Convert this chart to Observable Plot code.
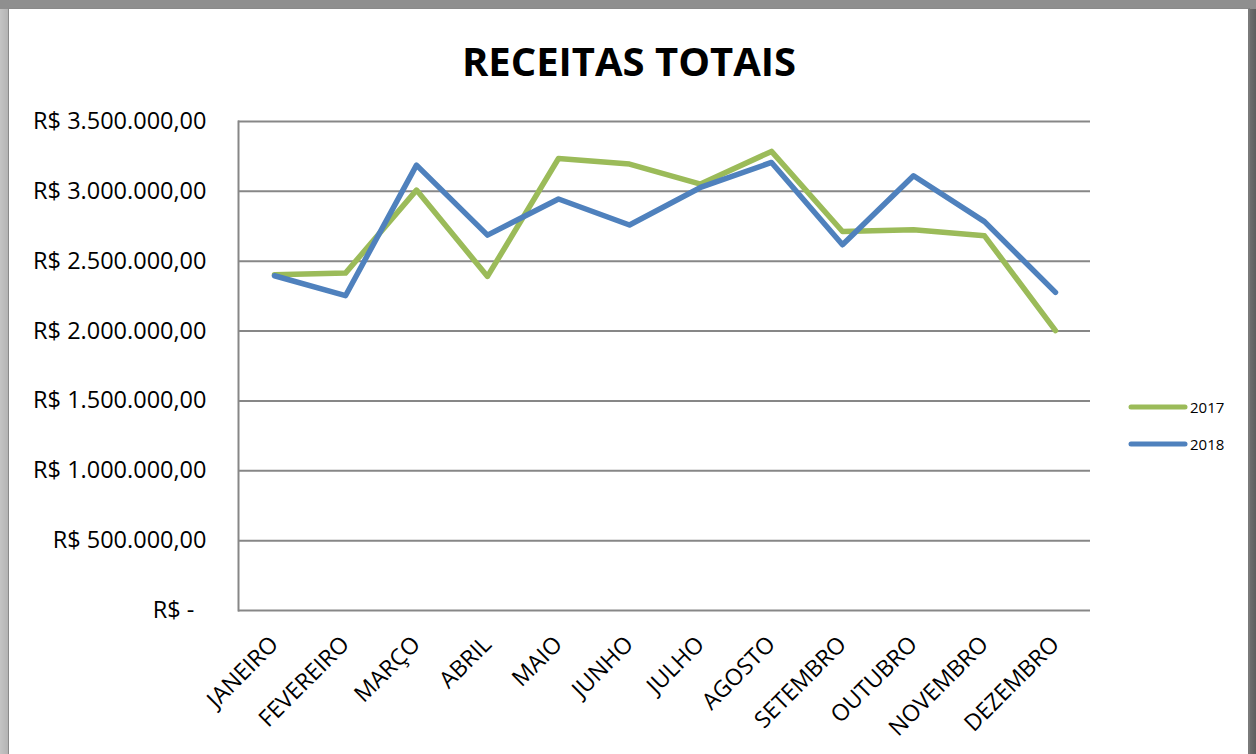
<!DOCTYPE html>
<html>
<head>
<meta charset="utf-8">
<script src="https://cdn.jsdelivr.net/npm/d3@7"></script>
<script src="https://cdn.jsdelivr.net/npm/@observablehq/plot@0.6"></script>
<style>
  html, body { margin: 0; padding: 0; }
  body { width: 1256px; height: 754px; position: relative; overflow: hidden;
         background: linear-gradient(to right, #c4c4c4 0px, #b4b4b4 8px, #8e8e8e 9px, #8e8e8e 1249px, #6e6e6e 1250px, #5e5e5e 1256px);
         font-family: "Open Sans", sans-serif; }
  #topbar { position: absolute; left: 0; top: 0; width: 1256px; height: 9px; background: #8f8f8f; }
  #panel { position: absolute; left: 8px; top: 8px; width: 1242px; height: 760px; background: #fff;
           border-left: 1px solid #8a8a8a; border-top: 1px solid #8a8a8a; border-right: 2px solid #7a7a7a; box-sizing: border-box; }
  #title { position: absolute; left: 0; top: 41px; width: 1258px; text-align: center; font-weight: 700;
           font-size: 40px; line-height: 40px; color: #000; }
  #chart { position: absolute; left: 0; top: 0; }
  .leg { position: absolute; left: 1128px; height: 20px; display: flex; align-items: center; font-size: 15px; color: #000; }
  .leg svg { margin-right: 2px; }
</style>
</head>
<body>
<div id="topbar"></div>
<div id="panel"></div>
<div id="title">RECEITAS TOTAIS</div>
<div id="chart"></div>
<div id="legend"></div>
<script>
const months = ["JANEIRO","FEVEREIRO","MARÇO","ABRIL","MAIO","JUNHO","JULHO","AGOSTO","SETEMBRO","OUTUBRO","NOVEMBRO","DEZEMBRO"];
const v2017 = [2403000, 2415000, 3009000, 2391000, 3235000, 3195000, 3052000, 3286000, 2713000, 2725000, 2682000, 2003000];
const v2018 = [2396000, 2253000, 3188000, 2687000, 2945000, 2759000, 3028000, 3207000, 2618000, 3112000, 2783000, 2277000];
const yTicks = [0, 500000, 1000000, 1500000, 2000000, 2500000, 3000000, 3500000];
const seriesNames = ["2017", "2018"];
const seriesColors = ["#9BBB59", "#4F81BD"];

const data = months.flatMap((m, i) => [
  {month: m, year: "2017", value: v2017[i]},
  {month: m, year: "2018", value: v2018[i]}
]);

const locale = d3.formatLocale({decimal: ",", thousands: ".", grouping: [3], currency: ["R$ ", ""]});
const fmt = locale.format("$,.2f");
const tickFormat = d => d === 0 ? "R$ -\u00a0\u00a0" : fmt(d);

const chart = Plot.plot({
  width: 1256,
  height: 754,
  marginLeft: 238,
  marginRight: 166,
  marginTop: 121,
  marginBottom: 144,
  style: {fontFamily: "Open Sans, sans-serif", background: "transparent", color: "#000", overflow: "visible"},
  x: {type: "point", domain: months, padding: 0.5},
  y: {domain: [0, 3500000]},
  color: {domain: seriesNames, range: seriesColors},
  marks: [
    Plot.ruleY(yTicks, {stroke: "#878787", strokeWidth: 2, strokeOpacity: 1}),
    Plot.frame({anchor: "left", stroke: "#878787", strokeWidth: 2}),
    Plot.axisY({ticks: yTicks, tickFormat, tickSize: 0, tickPadding: 32, fontSize: 23.5, label: null}),
    Plot.axisX({tickSize: 0, tickPadding: 30, tickRotate: -45, fontSize: 23, label: null, dx: 0}),
    Plot.lineY(data.filter(d => d.year === "2017"), {x: "month", y: "value", stroke: "year", strokeWidth: 5.5, strokeLinejoin: "round", strokeLinecap: "round"}),
    Plot.lineY(data.filter(d => d.year === "2018"), {x: "month", y: "value", stroke: "year", strokeWidth: 5.5, strokeLinejoin: "round", strokeLinecap: "round"})
  ]
});
document.getElementById("chart").appendChild(chart);

const legend = document.getElementById("legend");
seriesNames.forEach((name, i) => {
  const div = document.createElement("div");
  div.className = "leg";
  div.style.top = (397 + i * 37) + "px";
  div.innerHTML = `<svg width="60" height="20"><line x1="3" y1="10" x2="57" y2="10" stroke="${seriesColors[i]}" stroke-width="5" stroke-linecap="round"/></svg><span>${name}</span>`;
  legend.appendChild(div);
});
</script>
</body>
</html>
